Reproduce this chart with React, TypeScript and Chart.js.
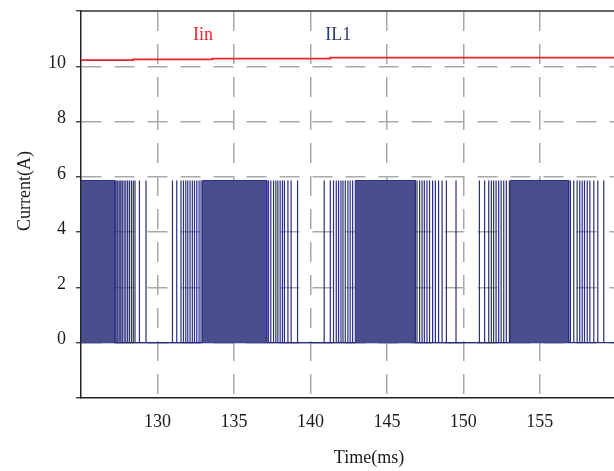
import React, { useEffect, useRef } from 'react';
import { Chart, registerables } from 'chart.js';
Chart.register(...registerables);

const X_MIN = 125;
const X_MAX = 159.85;
const Y_MIN = -2;
const Y_MAX = 12;
const xTickValues = [130, 135, 140, 145, 150, 155];
const yTickValues = [-2, 0, 2, 4, 6, 8, 10, 12];

// Iin (red) — step values
const iinTimes = [125, 128.4, 133.6, 141.3, 151.4, 159.85];
const iinValues = [10.18, 10.22, 10.25, 10.28, 10.31, 10.31];

// IL1 (blue) — pulse amplitude, dense switching blocks and individual pulses
const il1High = 5.87;
const il1DenseStart = [125, 132.94, 142.93, 153.07];
const il1DenseEnd = [127.22, 137.15, 146.86, 156.89];
const il1PulseTimes = [
  125.46, 126.05, 126.7,
  127.3, 127.4, 127.5, 127.6, 127.7, 127.82, 127.93, 128.05, 128.17, 128.3, 128.42, 128.53, 128.82, 129.25,
  130.98, 131.26, 131.54, 131.7, 131.85, 131.98, 132.13, 132.28, 132.42, 132.57, 132.72, 132.85,
  133.9, 134.75, 135.73, 136.58,
  137.26, 137.41, 137.59, 137.74, 137.87, 138.02, 138.17, 138.3, 138.53, 138.74, 139.16,
  140.9, 141.3, 141.51, 141.69, 141.84, 142.0, 142.13, 142.28, 142.45, 142.6, 142.76,
  143.04, 143.8, 144.35, 145.33, 145.88, 146.42,
  146.97, 147.14, 147.3, 147.45, 147.62, 147.79, 147.99, 148.17, 148.38, 148.61, 148.89, 149.52,
  151.05, 151.39, 151.66, 151.83, 151.98, 152.14, 152.31, 152.47, 152.64, 152.81, 153.01,
  153.29, 153.95, 154.5, 155.15, 155.69, 156.35,
  157.0, 157.22, 157.44, 157.61, 157.77, 157.92, 158.1, 158.27, 158.53, 158.79, 159.18,
];

const seriesLabels = [
  { text: 'Iin', x: 132.98, y: 11.13, color: '#e8262e' },
  { text: 'IL1', x: 141.82, y: 11.13, color: '#2b3b6e' },
];

const FONT = '"Liberation Serif", "Times New Roman", serif';

function buildDense() {
  const pts: { x: number; y: number }[] = [];
  for (let i = 0; i < il1DenseStart.length; i++) {
    pts.push({ x: il1DenseStart[i], y: 0 });
    pts.push({ x: il1DenseStart[i], y: il1High });
    pts.push({ x: il1DenseEnd[i], y: il1High });
    pts.push({ x: il1DenseEnd[i], y: 0 });
  }
  return pts;
}

function buildPulses() {
  const pts: { x: number; y: number }[] = [{ x: X_MIN, y: 0 }];
  for (const t of il1PulseTimes) {
    pts.push({ x: t, y: 0 });
    pts.push({ x: t, y: il1High });
    pts.push({ x: t, y: 0 });
  }
  pts.push({ x: X_MAX, y: 0 });
  return pts;
}

const overlayPlugin = {
  id: 'overlay',
  afterDatasetsDraw(chart: any) {
    const { ctx, chartArea, scales } = chart;
    ctx.save();
    // top frame line
    ctx.strokeStyle = '#333';
    ctx.lineWidth = 1.5;
    ctx.setLineDash([]);
    ctx.beginPath();
    ctx.moveTo(chartArea.left, chartArea.top);
    ctx.lineTo(chartArea.right, chartArea.top);
    ctx.stroke();
    // series labels
    ctx.font = `18px ${FONT}`;
    ctx.textAlign = 'center';
    ctx.textBaseline = 'middle';
    for (const l of seriesLabels) {
      ctx.fillStyle = l.color;
      ctx.fillText(l.text, scales.x.getPixelForValue(l.x), scales.y.getPixelForValue(l.y));
    }
    // axis titles
    ctx.fillStyle = '#1a1a1a';
    ctx.fillText('Time(ms)', chartArea.left + 288, chart.height - 13);
    ctx.translate(25, chartArea.top + 180);
    ctx.rotate(-Math.PI / 2);
    ctx.fillText('Current(A)', 0, 0);
    ctx.restore();
  },
};

export default function App() {
  const ref = useRef<HTMLCanvasElement | null>(null);
  useEffect(() => {
    if (!ref.current) return;
    const chart = new Chart(ref.current, {
      type: 'line',
      data: {
        datasets: [
          {
            label: 'IL1 dense',
            data: buildDense(),
            borderColor: '#2c2f7c',
            borderWidth: 1,
            backgroundColor: '#4b4e8e',
            fill: 'origin',
            pointRadius: 0,
            tension: 0,
          },
          {
            label: 'IL1',
            data: buildPulses(),
            borderColor: '#2c2f7c',
            borderWidth: 1.2,
            fill: false,
            pointRadius: 0,
            tension: 0,
          },
          {
            label: 'Iin',
            data: iinTimes.map((t, i) => ({ x: t, y: iinValues[i] })),
            borderColor: '#e8262e',
            borderWidth: 1.8,
            stepped: 'after',
            fill: false,
            pointRadius: 0,
          },
        ],
      },
      options: {
        animation: false,
        responsive: false,
        layout: { padding: { left: 0, right: 0, top: 11, bottom: 0 } },
        plugins: { legend: { display: false }, tooltip: { enabled: false } },
        scales: {
          x: {
            type: 'linear',
            min: X_MIN,
            max: X_MAX,
            afterBuildTicks: (scale: any) => {
              scale.ticks = xTickValues.map((v) => ({ value: v }));
            },
            afterFit: (scale: any) => {
              scale.height = 73;
              scale.paddingLeft = 0;
              scale.paddingRight = 0;
            },
            ticks: {
              color: '#1a1a1a',
              font: { family: FONT, size: 18 },
              padding: 13,
              maxRotation: 0,
            },
            grid: { color: '#a9a9a9', lineWidth: 1.5, drawTicks: false },
            border: { color: '#222', width: 1.5, dash: [20, 13] },
          },
          y: {
            type: 'linear',
            min: Y_MIN,
            max: Y_MAX,
            afterBuildTicks: (scale: any) => {
              scale.ticks = yTickValues.map((v) => ({ value: v }));
            },
            afterFit: (scale: any) => {
              scale.width = 81;
              scale.paddingTop = 0;
              scale.paddingBottom = 0;
            },
            ticks: {
              color: '#1a1a1a',
              font: { family: FONT, size: 18 },
              padding: 10,
              labelOffset: -3,
              callback: (v: any) => (v === Y_MIN || v === Y_MAX ? '' : String(v)),
            },
            grid: {
              color: (c: any) =>
                c.tick && (c.tick.value === Y_MIN || c.tick.value === Y_MAX) ? 'rgba(0,0,0,0)' : '#a9a9a9',
              lineWidth: 1.5,
              drawTicks: true,
              tickLength: 5,
              tickColor: '#222',
              tickWidth: 1.2,
              tickBorderDash: [],
            },
            border: { color: '#222', width: 1.5, dash: [20, 13] },
          },
        },
      },
      plugins: [overlayPlugin],
    } as any);
    return () => chart.destroy();
  }, []);
  return (
    <div style={{ position: 'absolute', left: 0, top: 0, width: 614, height: 471, background: '#fff' }}>
      <canvas ref={ref} width={614} height={471} style={{ display: 'block' }} />
    </div>
  );
}
